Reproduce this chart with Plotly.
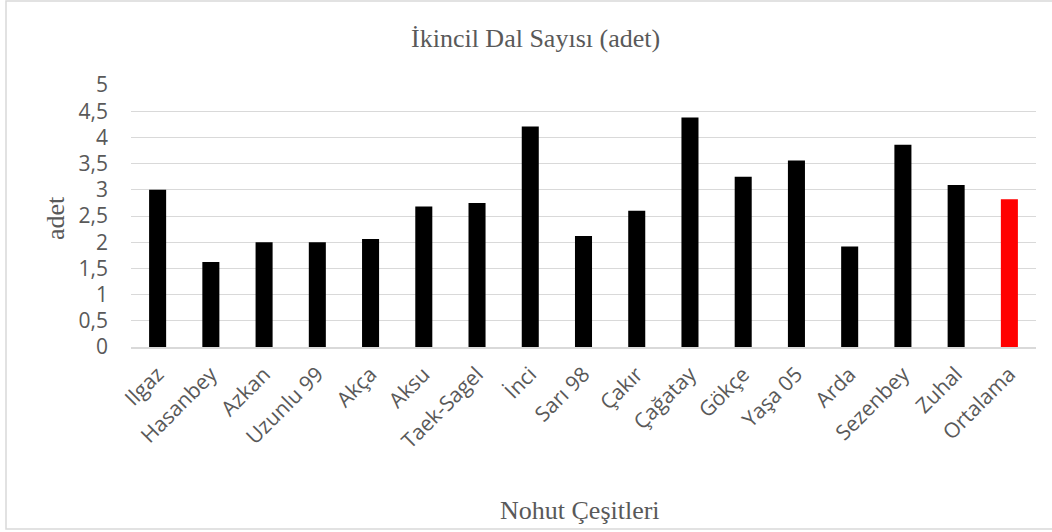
import plotly.graph_objects as go

categories = ["Ilgaz", "Hasanbey", "Azkan", "Uzunlu 99", "Akça", "Aksu", "Taek-Sagel",
              "İnci", "Sarı 98", "Çakır", "Çağatay", "Gökçe", "Yaşa 05", "Arda",
              "Sezenbey", "Zuhal", "Ortalama"]
values = [3.0, 1.62, 2.0, 2.0, 2.06, 2.68, 2.75, 4.21, 2.12, 2.60, 4.38, 3.25, 3.56,
          1.92, 3.86, 3.09, 2.82]
bar_colors = ["#000000"] * 16 + ["#FF0000"]
y_ticks = [0, 0.5, 1, 1.5, 2, 2.5, 3, 3.5, 4, 4.5, 5]

W, H = 1052, 532
L, R, T, B = 131, 1036, 85, 347
pw, ph = R - L, B - T


def px(x):
    return (x - L) / pw


def py(y):
    return (B - y) / ph


fig = go.Figure(go.Bar(
    x=categories, y=values, marker=dict(color=bar_colors, line=dict(width=0)),
))

serif = "Liberation Serif, Times New Roman, serif"
sans = "Open Sans, Liberation Sans, sans-serif"

fig.update_layout(
    width=W, height=H,
    margin=dict(l=L, r=W - R, t=T, b=H - B, pad=0),
    paper_bgcolor="white", plot_bgcolor="white",
    bargap=0.68,
    separators=", ",
    showlegend=False,
    font=dict(family=sans, color="#595959", size=21),
)
fig.update_xaxes(
    showline=True, linecolor="#d9d9d9", linewidth=1.5,
    showgrid=False, ticks="", tickangle=-45,
    ticklabelstandoff=5,
    tickfont=dict(family=sans, size=21, color="#595959"),
)
fig.update_yaxes(
    range=[0, 5], tickvals=y_ticks,
    ticktext=[str(v).replace(".", ",") if v != int(v) else str(int(v)) for v in y_ticks],
    showgrid=True, gridcolor="#d9d9d9", gridwidth=1.3,
    zeroline=False, showline=False, ticks="",
    ticklabelstandoff=22,
    tickfont=dict(family=sans, size=21, color="#595959"),
)

fig.add_annotation(text="İkincil Dal Sayısı (adet)", xref="paper", yref="paper",
                   x=px(535), y=py(38), showarrow=False, xanchor="center", yanchor="middle",
                   font=dict(family=serif, size=26, color="#595959"))
fig.add_annotation(text="adet", xref="paper", yref="paper", x=px(55), y=py(218),
                   showarrow=False, textangle=-90, xanchor="center", yanchor="middle",
                   font=dict(family=serif, size=26, color="#595959"))
fig.add_annotation(text="Nohut Çeşitleri", xref="paper", yref="paper", x=px(580), y=py(510),
                   showarrow=False, xanchor="center", yanchor="middle",
                   font=dict(family=serif, size=26, color="#595959"))

fig.add_shape(type="rect", xref="paper", yref="paper",
              x0=px(6), x1=px(1060), y0=py(529), y1=py(1),
              line=dict(color="#d9d9d9", width=1.5), fillcolor="rgba(0,0,0,0)", layer="below")

fig.write_html("out.html")
